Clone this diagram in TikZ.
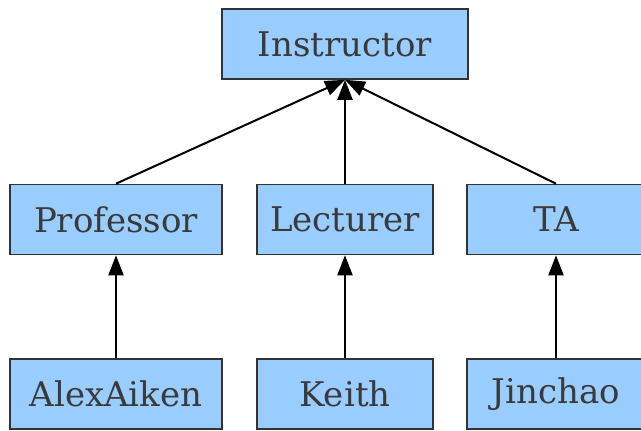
\documentclass[tikz,border=0pt]{standalone}
\usepackage{fontspec}
\setmainfont{DejaVu Serif}
\usetikzlibrary{arrows.meta}
\definecolor{boxfill}{HTML}{99CCFF}
\definecolor{boxtext}{HTML}{3A3A3A}
\definecolor{boxline}{HTML}{333333}
\begin{document}
\begin{tikzpicture}[x=1pt,y=-1pt,
  cls/.style={draw=boxline,line width=1.6pt,fill=boxfill,rectangle,inner sep=0pt,
    text=boxtext,font=\fontsize{34}{40}\selectfont,minimum height=70pt},
  inh/.style={line width=2pt,-{Triangle[length=20pt,width=15pt]}}]
\useasboundingbox (0,0) rectangle (641,431);
\node[cls,minimum width=246pt] (ins) at (345,44) {Instructor};
\node[cls,minimum width=212pt] (prof) at (116,219.5) {Professor};
\node[cls,minimum width=176pt] (lect) at (345,219.5) {Lecturer};
\node[cls,minimum width=178pt] (ta) at (556,219.5) {TA};
\node[cls,minimum width=212pt] (alex) at (116,394) {AlexAiken};
\node[cls,minimum width=176pt] (keith) at (345,394) {Keith};
\node[cls,minimum width=178pt] (jin) at (556,394) {Jinchao};
\draw[inh] (prof.north) -- (ins.south);
\draw[inh] (lect.north) -- (ins.south);
\draw[inh] (ta.north) -- (ins.south);
\draw[inh] (alex.north) -- (prof.south);
\draw[inh] (keith.north) -- (lect.south);
\draw[inh] (jin.north) -- (ta.south);
\end{tikzpicture}
\end{document}
